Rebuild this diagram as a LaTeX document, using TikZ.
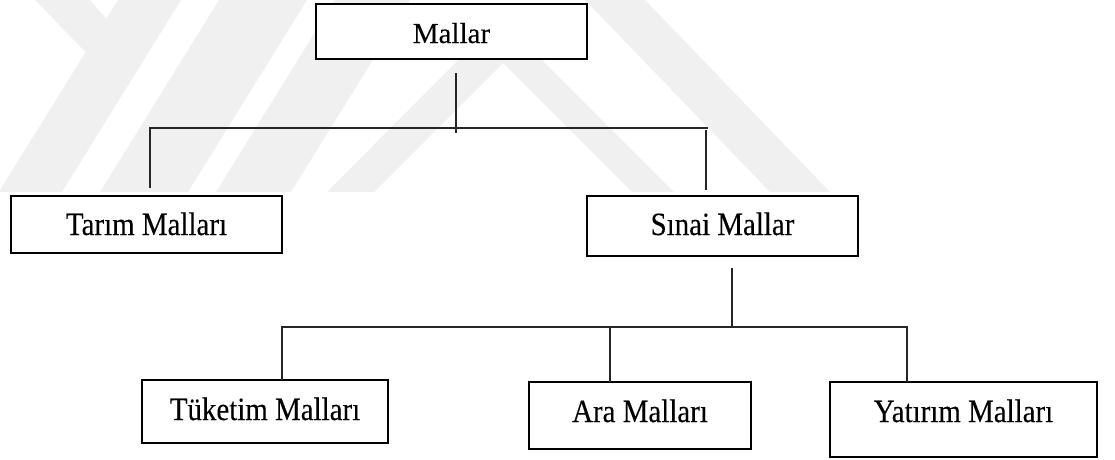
\documentclass[tikz,border=0pt]{standalone}
\usepackage{fontspec}
\setmainfont[FakeBold=0.2]{Liberation Serif}
\newfontfamily\tallfont[FakeStretch=0.89,FakeBold=0.2]{Liberation Serif}
\usepackage{tikz}
\usetikzlibrary{calc}
\usetikzlibrary{positioning}
\tikzset{
    box/.style={
           rectangle,
           draw=black, line width=2.2pt, fill=white,
           anchor=north west,
           inner xsep=0pt, inner ysep=0pt, outer sep=0pt,
           text height=39pt,
           font=\tallfont\fontsize{32.5}{38}\selectfont,
           text centered,
           },
    link/.style={draw=black!85, line width=1.1pt},
    wm/.style={fill=black!6},
}
\begin{document}
\begin{tikzpicture}[x=1pt,y=-1pt]
    \useasboundingbox (0,0) rectangle (1115,459);
    % watermark
    \fill[wm] (35,0) -- (90,0) -- (125,40) -- (105,72) -- cycle;
    \fill[wm] (118,0) -- (181,0) -- (62,192) -- (0,192) -- (0,190) -- cycle;
    \fill[wm] (219,0) -- (307,0) -- (188,192) -- (100,192) -- cycle;
    \fill[wm] (335,0) -- (410,0) -- (291,192) -- (216,192) -- cycle;
    \fill[wm] (327,192) -- (500,18) -- (674,192) -- (632,192)
        -- (503,63) -- (374,192) -- cycle;
    \fill[wm] (585,0) -- (645,0) -- (830,192) -- (770,192) -- cycle;

    \node[box, minimum width=271pt, text depth=16pt,
          font=\fontsize{29}{35}\selectfont]         (mallar)  at (316,4)   {Mallar};
    \node[box, minimum width=271pt, text depth=18pt] (tarim)   at (11,196)  {Tarım Malları};
    \node[box, minimum width=271pt, text depth=21pt] (sinai)   at (587,196) {Sınai Mallar};
    \node[box, minimum width=246pt, text height=40pt, text depth=23pt] (tuketim) at (142,380) {Tüketim Malları};
    \node[box, minimum width=222pt, text height=40pt, text depth=27pt] (ara)     at (529,382) {Ara Malları};
    \node[box, minimum width=267pt, text height=40pt, text depth=35pt] (yatirim) at (830,382) {Yatırım Malları};

    \coordinate (m_top) at (456,73);
    \coordinate (m_bot) at (456,133);
    \coordinate (l_head) at (150,188);
    \coordinate (l_bend) at (150,128);
    \coordinate (r_bend) at (708,128);
    \coordinate (r_top) at (706,130);
    \coordinate (r_head) at (706,190);
    \coordinate (s_top) at (732,268);
    \coordinate (s_bot) at (732,328);
    \coordinate (t_bend) at (282,327);
    \coordinate (y_bend) at (907,327);
    \coordinate (a_join) at (610,327);

    \draw[link] (m_top) -- (m_bot);
    \draw[link] (l_head) -- (l_bend) -- (r_bend);
    \draw[link] (r_top) -- (r_head);
    \draw[link] (s_top) -- (s_bot);
    \draw[link] (tuketim.north -| t_bend) -- (t_bend) -- (y_bend) -- (yatirim.north -| y_bend);
    \draw[link] (a_join) -- (ara.north -| a_join);
\end{tikzpicture}
\end{document}
